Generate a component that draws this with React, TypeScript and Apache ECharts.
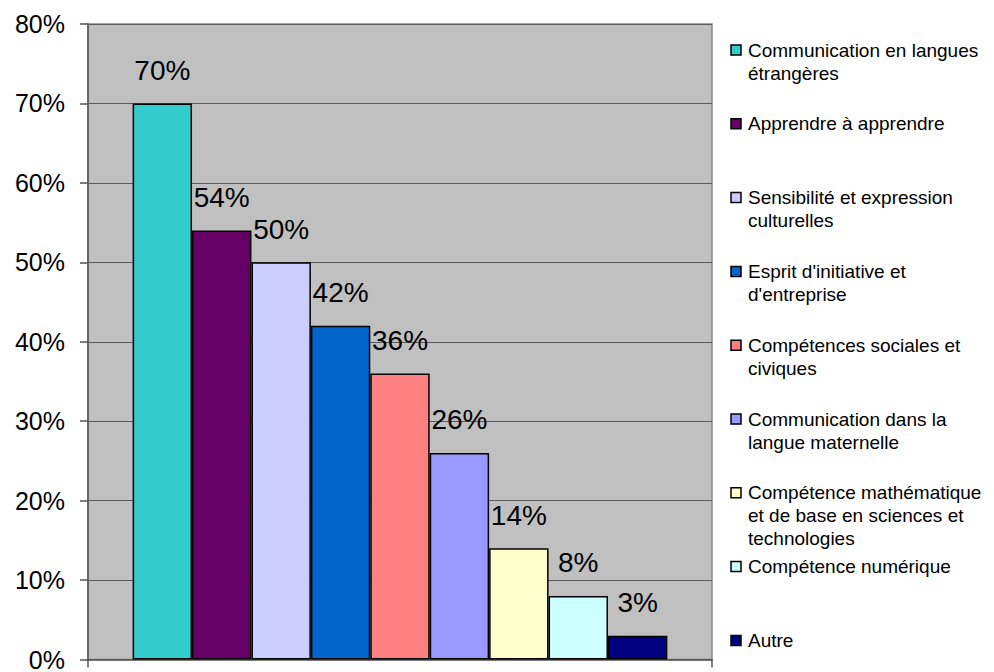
import React, { useEffect, useRef } from "react";
import * as echarts from "echarts";

const seriesNames: string[] = [
  "Communication en langues étrangères",
  "Apprendre à apprendre",
  "Sensibilité et expression culturelles",
  "Esprit d'initiative et d'entreprise",
  "Compétences sociales et civiques",
  "Communication dans la langue maternelle",
  "Compétence mathématique et de base en sciences et technologies",
  "Compétence numérique",
  "Autre",
];

const legendLines: string[][] = [
  ["Communication en langues", "étrangères"],
  ["Apprendre à apprendre"],
  ["Sensibilité et expression", "culturelles"],
  ["Esprit d'initiative et", "d'entreprise"],
  ["Compétences sociales et", "civiques"],
  ["Communication dans la", "langue maternelle"],
  ["Compétence mathématique", "et de base en sciences et", "technologies"],
  ["Compétence numérique"],
  ["Autre"],
];

const values: number[] = [70, 54, 50, 42, 36, 26, 14, 8, 3];

const colors: string[] = [
  "#33CCCC",
  "#660066",
  "#CCCCFF",
  "#0066CC",
  "#FF8080",
  "#9999FF",
  "#FFFFCC",
  "#CCFFFF",
  "#000080",
];

const categories: string[] = [""];

const FONT = "'Liberation Sans', Arial, sans-serif";

export default function App() {
  const ref = useRef<HTMLDivElement>(null);

  useEffect(() => {
    if (!ref.current) return;
    const chart = echarts.init(ref.current, undefined, { renderer: "svg" });

    const legendTop = 50;
    const legendStep = 73.8;
    const lh = 23;
    const legendGraphics: any[] = [];
    legendLines.forEach((lines, i) => {
      const cy = legendTop + i * legendStep;
      legendGraphics.push({
        type: "rect",
        shape: { x: 731, y: cy - 5, width: 10, height: 10 },
        style: { fill: colors[i], stroke: "#000", lineWidth: 1.5 },
      });
      legendGraphics.push({
        type: "text",
        x: 748,
        y: cy - lh / 2,
        style: {
          text: lines.join("\n"),
          fontSize: 19,
          fontFamily: FONT,
          fill: "#000",
          lineHeight: lh,
          verticalAlign: "top",
          align: "left",
        },
      });
    });

    chart.setOption({
      animation: false,
      backgroundColor: "#ffffff",
      grid: {
        left: 88,
        right: 282,
        top: 24,
        bottom: 7,
        show: true,
        backgroundColor: "#C0C0C0",
        borderColor: "#888888",
        borderWidth: 1.5,
        containLabel: false,
      },
      xAxis: {
        type: "category",
        data: categories,
        axisLine: { show: true, lineStyle: { color: "#555", width: 1.5 } },
        axisTick: { show: true, length: 8, lineStyle: { color: "#555", width: 1.5 } },
        axisLabel: { show: false },
      },
      yAxis: {
        type: "value",
        min: 0,
        max: 80,
        interval: 10,
        axisLine: { show: true, lineStyle: { color: "#555", width: 1.5 } },
        axisTick: { show: true, length: 8, lineStyle: { color: "#555", width: 1.5 } },
        axisLabel: {
          formatter: "{value}%",
          fontSize: 25,
          fontFamily: FONT,
          color: "#000",
          margin: 23,
        },
        splitLine: { show: true, lineStyle: { color: "#5a5a5a", width: 1.2 } },
      },
      series: seriesNames.map((name, i) => ({
        name,
        type: "bar",
        data: [values[i]],
        barGap: "0%",
        barCategoryGap: "14.3%",
        itemStyle: { color: colors[i], borderColor: "#000", borderWidth: 1.5 },
        label: {
          show: true,
          position: "top",
          distance: 19,
          formatter: "{c}%",
          fontSize: 28,
          fontFamily: FONT,
          color: "#000",
        },
      })),
      graphic: legendGraphics,
    });

    return () => chart.dispose();
  }, []);

  return (
    <div
      ref={ref}
      style={{ position: "fixed", left: 0, top: 0, width: 994, height: 672 }}
    />
  );
}
